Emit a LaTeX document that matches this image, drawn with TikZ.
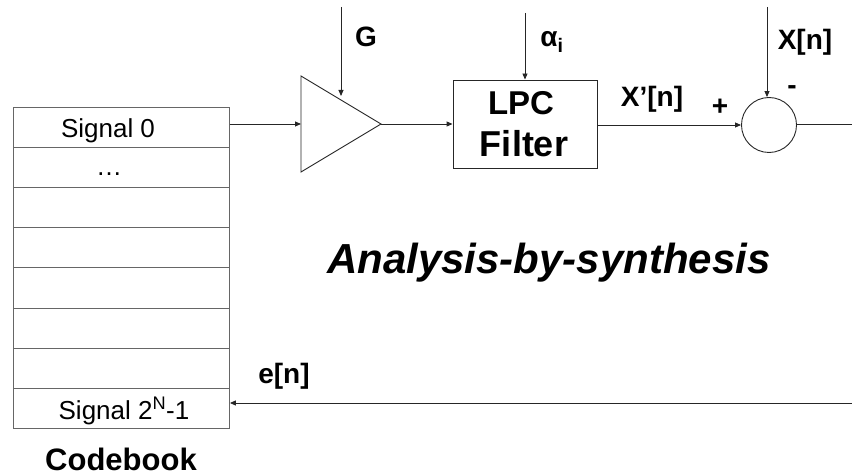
\documentclass[tikz,border=0pt]{standalone}
\usepackage{fontspec}
\setmainfont{Liberation Sans}
\usetikzlibrary{arrows.meta}
\begin{document}
\begin{tikzpicture}[x=1pt,y=-1pt,
  line/.style={draw=black!85,line width=0.9pt},
  arr/.style={line,-{Triangle[length=6pt,width=5pt]}},
  cell/.style={draw=black!60,line width=0.9pt,minimum width=216pt,minimum height=40.1pt,inner sep=0pt,anchor=north west},
  small/.style={font=\fontsize{26}{30}\selectfont,anchor=base,inner sep=0pt},
  lbl/.style={font=\fontsize{28}{32}\selectfont\bfseries,anchor=base,inner sep=0pt}]
\useasboundingbox (0,0) rectangle (852,476);
% codebook
\node[cell] (r0) at (13,107) {};
\node[cell] (r1) at (13,147.1) {};
\node[cell] (r2) at (13,187.2) {};
\node[cell] (r3) at (13,227.3) {};
\node[cell] (r4) at (13,267.4) {};
\node[cell] (r5) at (13,307.5) {};
\node[cell] (r6) at (13,347.6) {};
\node[cell] (r7) at (13,387.7) {};
\node[small] (t0) at (108,138) {Signal 0};
\node[small] (t1) at (109,176) {…};
\node[small] (t7) at (124,419) {Signal 2\textsuperscript{N}-1};
\node[lbl,font=\fontsize{31}{36}\selectfont\bfseries] (cb) at (121,470) {Codebook};
% amplifier
\coordinate (ain) at (301,124);
\coordinate (aout) at (381,124);
\draw[line] (301,76) -- (381,124) -- (301,172) -- cycle;
\coordinate (atop) at (341,96);
\coordinate (gtop) at (341,7);
\node[lbl] (g) at (366,47) {G};
\draw[arr] (gtop) -- (atop);
\draw[arr] (r0.east |- ain) -- (ain);
% LPC filter
\node[line,minimum width=144pt,minimum height=88pt,inner sep=0pt] (lpc) at (525,124) {};
\node[lbl,font=\fontsize{33}{38}\selectfont\bfseries] (lpc1) at (521,115) {LPC};
\node[lbl,font=\fontsize{36}{40}\selectfont\bfseries] (lpc2) at (524,157) {Filter};
\draw[arr] (aout) -- (lpc.west);
\coordinate (atopa) at (525,13);
\draw[arr] (atopa) -- (lpc.north);
\node[lbl] (alpha) at (552,47) {α\textsubscript{i}};
% summation
\node[line,circle,minimum size=55pt,inner sep=0pt] (sum) at (769,125) {};
\draw[arr] (lpc.east |- sum.west) -- (sum.west);
\node[lbl] (xp) at (652,107) {X’[n]};
\node[lbl] (plus) at (720,116) {+};
\coordinate (xtop) at (767,7);
\draw[arr] (xtop) -- (sum.north -| xtop);
\node[lbl] (xn) at (805,50) {X[n]};
\node[lbl] (minus) at (792,95) {-};
\coordinate (outend) at (852,124);
\draw[line] (sum.east |- outend) -- (outend);
% feedback
\coordinate (fb) at (852,403);
\draw[arr] (fb) -- (r7.east |- fb);
\node[lbl] (en) at (284,383) {e[n]};
\node[font=\fontsize{42}{48}\selectfont\bfseries\itshape,anchor=base,inner sep=0pt] (abs) at (549,273) {Analysis-by-synthesis};
\end{tikzpicture}
\end{document}
